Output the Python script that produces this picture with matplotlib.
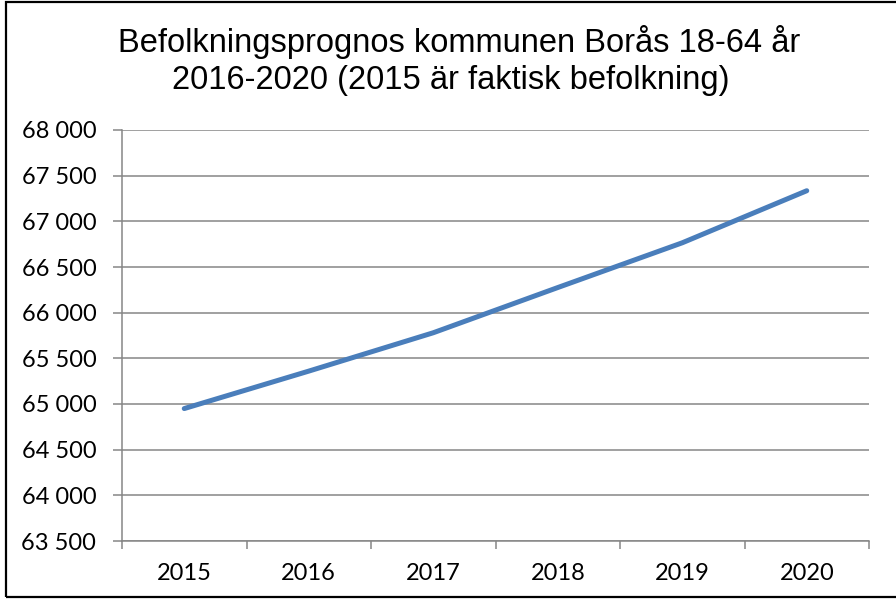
import matplotlib
matplotlib.use("Agg")
import matplotlib.pyplot as plt
from matplotlib.patches import Rectangle

#  Data 
years = ["2015", "2016", "2017", "2018", "2019", "2020"]
population = [64950, 65360, 65780, 66275, 66765, 67335]
y_ticks = [63500, 64000, 64500, 65000, 65500, 66000, 66500, 67000, 67500, 68000]
y_labels = ["63 500", "64 000", "64 500", "65 000", "65 500",
            "66 000", "66 500", "67 000", "67 500", "68 000"]

title_lines = ["Befolkningsprognos kommunen Borås 18-64 år",
               "2016-2020 (2015 är faktisk befolkning)"]

W, H = 896, 608
fig = plt.figure(figsize=(W / 100, H / 100), dpi=100)
ax = fig.add_axes([122 / W, 1 - 541 / H, (869 - 122) / W, (541 - 130) / H])

grid_col = "#868686"
x = [i + 0.5 for i in range(len(years))]
ax.plot(x, population, color="#4A7EBB", lw=3.6, solid_capstyle="round",
        solid_joinstyle="round", zorder=3)

ax.set_xlim(0, len(years))
ax.set_ylim(63500, 68000)
ax.set_yticks(y_ticks)
ax.set_yticklabels(y_labels)
ax.set_xticks(range(len(years) + 1))
ax.set_xticklabels([])
ax.set_xticks(x, minor=True)
ax.set_xticklabels(years, minor=True)

ax.grid(axis="y", color=grid_col, lw=1.1, zorder=1)
for side in ["top", "right"]:
    ax.spines[side].set_visible(False)
for side in ["left", "bottom"]:
    ax.spines[side].set_color(grid_col)
    ax.spines[side].set_linewidth(1.1)

ax.tick_params(axis="y", which="major", length=6.5, width=1.1, color=grid_col,
               pad=12, labelsize=17)
ax.tick_params(axis="x", which="major", length=6, width=1.1, color=grid_col)
ax.tick_params(axis="x", which="minor", length=0, pad=16, labelsize=17)
for lbl in ax.get_yticklabels() + ax.get_xticklabels(minor=True):
    lbl.set_family(["Lato", "DejaVu Sans"])

# title, two centred lines (baselines)
for txt, cx, base in zip(title_lines, [459, 451], [52, 89]):
    fig.text(cx / W, 1 - base / H, txt, ha="center", va="baseline", fontsize=23.5,
             family=["Liberation Sans", "DejaVu Sans"])

# chart border
fig.add_artist(Rectangle((6 / W, 1 - 597 / H), (905 - 6) / W, (597 - 2) / H,
                         transform=fig.transFigure, fill=False, ec="black", lw=1.6))

fig.savefig("out.png", dpi=100)
